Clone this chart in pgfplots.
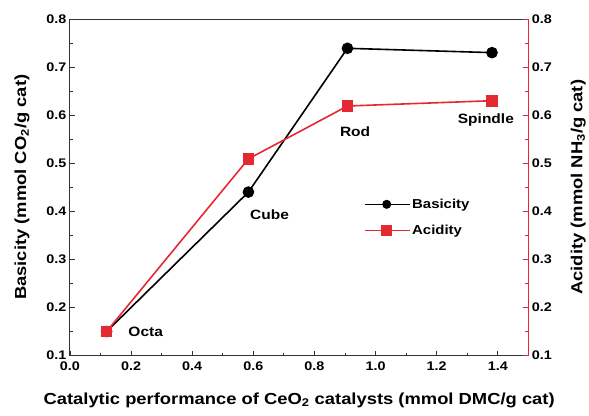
\documentclass[border=0pt]{standalone}
\usepackage{pgfplots}
\pgfplotsset{compat=1.18}
\usepackage{fontspec}
\setmainfont{Liberation Sans}[FakeStretch=1.15]
\definecolor{myred}{RGB}{229,41,51}
\begin{document}
\begin{tikzpicture}[font=\bfseries]
\pgfplotsset{
  common/.style={
    scale only axis, width=459pt, height=337pt,
    xmin=0, xmax=1.5, ymin=0.1, ymax=0.8,
    /pgf/number format/assume math mode=true,
    tick label style={font=\fontsize{12.5}{14}\selectfont\bfseries},
    yticklabel style={/pgf/number format/.cd,fixed,fixed zerofill,precision=1},
    xticklabel style={/pgf/number format/.cd,fixed,fixed zerofill,precision=1},
    ytick={0.1,0.2,...,0.8},
    minor y tick num=1,
    tick align=inside,
    major tick length=5pt, minor tick length=3pt,
    every axis plot/.append style={line width=1.6pt},
  }
}
\begin{axis}[common, name=ax,
  axis x line=box, axis y line*=left,
  xtick pos=bottom,
  xtick={0,0.2,...,1.4}, minor x tick num=1,
  xticklabel style={/tikz/yshift=-3pt},
  xlabel={Catalytic performance of CeO\textsubscript{2} catalysts (mmol DMC/g cat)},
  ylabel={Basicity (mmol CO\textsubscript{2}/g cat)},
  xlabel style={font=\fontsize{16}{18}\selectfont\bfseries, yshift=-15pt},
  ylabel style={font=\fontsize{16}{18}\selectfont\bfseries},
  ylabel shift=10pt,
  axis line style={line width=0.9pt, black!80},
  tick style={line width=0.8pt, black!80},
]
\addplot[black, mark=*, mark size=5pt] coordinates {
 (0.12,0.15) (0.584,0.44) (0.908,0.739) (1.381,0.730)};
\node[anchor=west, font=\fontsize{13.5}{16}\selectfont\bfseries] at (axis cs:0.18,0.15) {Octa};
\node[font=\fontsize{13.5}{16}\selectfont\bfseries] at (axis cs:0.653,0.392) {Cube};
\node[font=\fontsize{13.5}{16}\selectfont\bfseries] at (axis cs:0.933,0.565) {Rod};
\node[font=\fontsize{13.5}{16}\selectfont\bfseries] at (axis cs:1.361,0.59) {Spindle};
\end{axis}
\begin{axis}[common,
  axis x line=none, axis y line*=right,
  ylabel={Acidity (mmol NH\textsubscript{3}/g cat)},
  ylabel style={font=\fontsize{16}{18}\selectfont\bfseries},
  ylabel shift=12pt,
  y axis line style={myred, line width=0.9pt},
  ytick style={myred, line width=0.8pt},
  legend style={draw=none, fill=none, at={(0.635,0.478)}, anchor=north west,
    font=\fontsize{13}{16}\selectfont\bfseries, row sep=11pt},
  legend cell align=left,
  legend image code/.code={\draw[mark repeat=2,mark phase=2,line width=1pt] plot coordinates {(0pt,0pt) (22pt,0pt) (45pt,0pt)};},
]
\addlegendimage{black, mark=*, mark size=4pt}
\addlegendentry{Basicity}
\addplot[myred, mark=square*, mark size=5pt] coordinates {
 (0.12,0.15) (0.584,0.509) (0.908,0.619) (1.381,0.63)};
\addlegendentry{Acidity}
\end{axis}
\path (ax.south west) ++(-70pt,-60pt);
\path (ax.north east) ++(60pt,19pt);
\end{tikzpicture}
\end{document}
